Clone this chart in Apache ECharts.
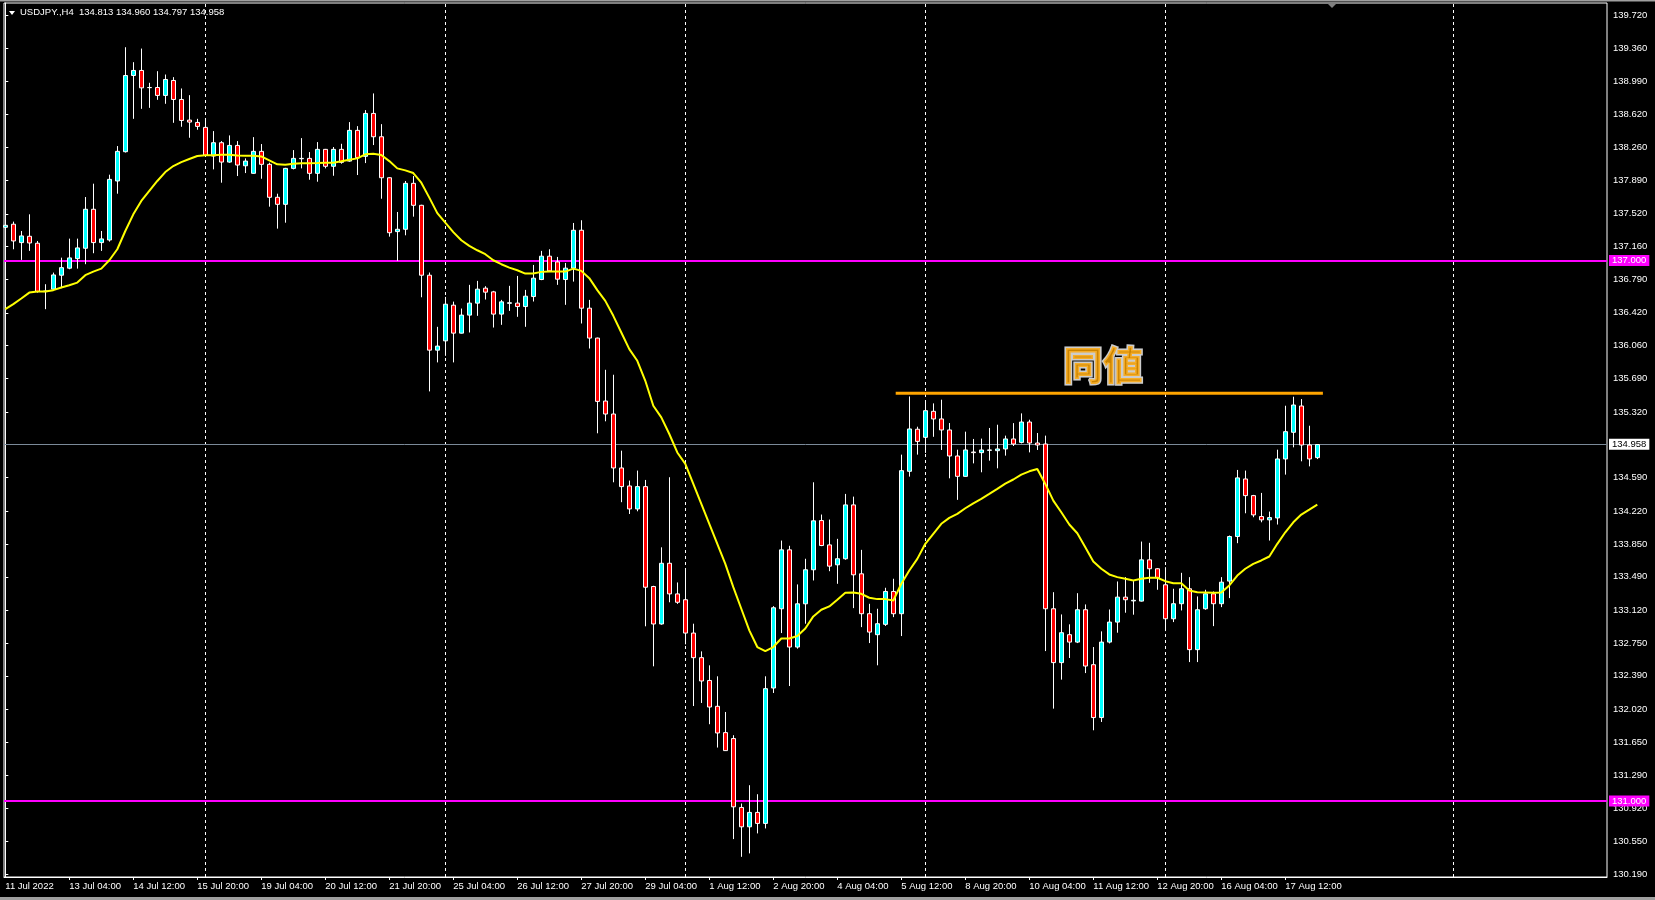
<!DOCTYPE html>
<html><head><meta charset="utf-8">
<script src="https://cdn.jsdelivr.net/npm/echarts@6/dist/echarts.min.js"></script>
<style>html,body{margin:0;padding:0;background:#000;}#c{width:1655px;height:900px;}</style>
</head><body><div id="c"></div>
<script>
// H4 bars, index 0 = 11 Jul 20:00 ... index 164 = 18 Aug 04:00
const opens = [137.370,137.404,137.200,137.270,137.193,136.656,136.683,136.838,136.916,137.022,137.137,137.570,137.200,137.229,137.884,138.209,139.055,139.111,138.920,138.922,138.834,139.000,138.789,138.560,138.534,138.479,138.161,138.309,138.094,138.279,138.053,137.969,138.213,138.069,137.703,137.625,138.024,138.131,138.135,137.969,138.235,138.047,138.235,138.105,138.446,138.158,138.634,138.375,137.920,137.322,137.348,137.858,137.614,136.838,136.006,136.109,136.505,136.195,136.395,136.528,136.694,136.653,136.406,136.526,136.528,136.490,136.601,136.790,137.049,136.986,136.790,136.916,137.337,136.472,136.140,135.441,135.297,134.698,134.498,134.243,134.491,133.382,132.966,133.640,133.300,133.235,132.865,132.592,132.339,132.052,131.760,131.694,130.929,130.714,130.874,130.752,132.255,133.135,133.789,132.710,133.190,133.568,134.114,133.844,133.623,133.690,134.288,133.523,133.080,132.847,132.962,133.327,133.080,134.661,135.128,135.038,135.327,135.242,135.120,134.831,134.605,134.875,134.868,134.894,134.890,134.909,135.020,134.982,135.208,134.975,134.964,133.135,132.537,132.847,132.765,133.124,132.514,131.927,132.765,132.987,133.264,133.222,133.220,133.678,133.579,133.401,133.024,133.191,133.357,132.681,133.135,133.301,133.191,133.442,133.937,134.576,134.391,134.159,134.122,134.143,134.798,135.094,135.386,134.953,134.813];
const highs = [137.440,137.433,137.329,137.514,137.218,136.738,136.867,137.033,137.244,137.244,137.706,137.854,137.329,137.954,138.272,139.369,139.203,139.354,138.974,139.103,139.066,139.037,138.911,138.837,138.574,138.574,138.438,138.327,138.390,138.327,138.135,138.371,138.294,138.087,137.743,138.030,138.227,138.360,138.205,138.316,138.240,138.261,138.297,138.538,138.493,138.671,138.856,138.515,137.927,137.540,137.884,137.939,137.620,136.868,136.265,136.597,136.545,136.468,136.731,136.775,136.716,136.664,136.564,136.720,136.830,136.675,136.952,137.108,137.126,137.041,136.974,137.418,137.448,136.564,136.145,135.788,135.733,134.890,134.558,134.669,134.565,133.390,133.817,134.595,133.427,133.579,132.969,132.662,132.507,132.385,131.989,131.731,130.973,131.176,131.076,132.385,133.164,133.892,133.834,133.405,133.690,134.539,134.181,134.125,133.911,134.410,134.380,133.789,133.190,133.135,133.368,133.468,134.846,135.492,135.156,135.445,135.415,135.456,135.197,134.901,135.101,135.020,135.024,135.142,135.178,135.057,135.196,135.304,135.234,135.086,135.057,133.319,133.072,132.962,133.308,133.183,132.710,132.884,133.127,133.438,133.486,133.442,133.881,133.867,133.586,133.596,133.357,133.534,133.486,133.272,133.346,133.327,133.486,133.948,134.676,134.669,134.399,134.421,134.214,134.901,135.389,135.489,135.463,135.167,134.960];
const lows = [137.237,137.126,137.008,137.108,136.645,136.461,136.664,136.694,136.904,136.911,136.960,137.082,137.108,137.211,137.743,138.200,138.574,138.685,138.696,138.785,138.741,138.530,138.486,138.364,138.453,138.161,138.013,137.865,138.086,137.939,137.972,137.965,137.909,137.599,137.355,137.421,138.013,138.024,137.898,137.876,138.024,137.942,138.076,138.098,137.950,138.083,138.283,137.687,137.266,136.997,137.281,137.488,136.593,135.548,135.870,135.943,135.870,136.191,136.202,136.387,136.568,136.257,136.287,136.442,136.376,136.265,136.546,136.783,136.879,136.731,136.509,136.767,136.302,136.024,135.083,135.216,134.539,134.318,134.187,134.217,132.940,132.496,132.958,133.207,133.189,132.740,132.055,132.089,131.853,131.594,131.557,130.578,130.381,130.419,130.641,130.696,132.200,132.865,132.277,132.692,132.969,133.449,133.830,133.552,133.412,133.679,133.142,132.931,132.754,132.507,132.944,133.042,132.832,134.602,134.846,134.865,135.044,134.898,134.583,134.344,134.601,134.749,134.650,134.779,134.694,134.835,134.942,134.971,134.871,134.898,132.665,132.026,132.348,132.588,132.754,132.421,131.786,131.878,132.750,132.869,133.091,133.069,133.215,133.423,133.346,132.887,132.987,133.116,132.543,132.543,133.124,132.942,133.153,133.253,133.863,134.195,134.151,134.095,133.892,134.070,134.624,134.927,134.772,134.716,134.797];
const closes = [137.392,137.218,137.274,137.196,136.656,136.663,136.841,136.922,137.030,137.141,137.570,137.200,137.241,137.902,138.213,139.055,139.111,138.918,138.922,138.834,139.011,138.789,138.556,138.538,138.490,138.169,138.309,138.094,138.279,138.061,138.105,138.213,138.069,137.703,137.625,138.024,138.135,138.135,137.969,138.235,138.047,138.235,138.091,138.446,138.142,138.634,138.375,137.920,137.310,137.348,137.858,137.614,136.838,136.006,136.051,136.516,136.195,136.395,136.528,136.683,136.650,136.406,136.542,136.532,136.490,136.605,136.805,137.049,136.886,136.794,136.916,137.337,136.472,136.140,135.437,135.297,134.698,134.491,134.243,134.491,133.374,132.966,133.640,133.300,133.207,132.865,132.592,132.333,132.044,131.756,131.560,130.936,130.714,130.874,130.752,132.248,133.146,133.789,132.710,133.190,133.568,134.111,133.837,133.608,133.690,134.288,133.512,133.080,132.876,132.969,133.327,133.080,134.668,135.131,134.993,135.334,135.242,135.120,134.831,134.605,134.898,134.868,134.898,134.898,134.909,135.020,134.964,135.208,134.975,134.953,133.135,132.537,132.869,132.765,133.124,132.499,131.927,132.765,132.987,133.264,133.235,133.229,133.678,133.579,133.479,133.024,133.191,133.357,132.681,133.124,133.301,133.191,133.430,133.937,134.588,134.391,134.177,134.122,134.147,134.798,135.101,135.397,134.953,134.798,134.958];
const maLine = [136.461,136.517,136.579,136.645,136.656,136.656,136.672,136.701,136.727,136.756,136.838,136.878,136.911,137.004,137.126,137.329,137.514,137.662,137.773,137.884,137.983,138.050,138.094,138.128,138.161,138.169,138.170,138.176,138.174,138.166,138.164,138.164,138.157,138.113,138.069,138.065,138.076,138.080,138.080,138.083,138.087,138.087,138.102,138.120,138.135,138.180,138.186,138.172,138.105,138.024,138.002,137.972,137.865,137.699,137.527,137.421,137.316,137.226,137.163,137.115,137.071,137.004,136.960,136.922,136.893,136.856,136.856,136.875,136.878,136.878,136.878,136.911,136.886,136.805,136.672,136.553,136.387,136.202,136.018,135.888,135.666,135.389,135.259,135.075,134.870,134.743,134.521,134.299,134.078,133.856,133.634,133.375,133.135,132.895,132.710,132.665,132.710,132.805,132.805,132.833,132.915,133.050,133.124,133.161,133.235,133.312,133.316,133.301,133.257,133.242,133.242,133.227,133.412,133.560,133.689,133.856,133.967,134.078,134.144,134.188,134.251,134.306,134.355,134.410,134.466,134.525,134.570,134.624,134.661,134.687,134.521,134.336,134.206,134.070,133.973,133.818,133.660,133.579,133.516,133.486,133.468,133.449,133.468,133.479,133.479,133.441,133.419,133.419,133.338,133.319,133.316,133.312,133.316,133.394,133.504,133.579,133.634,133.671,133.715,133.856,133.984,134.095,134.181,134.236,134.292];
const timeLabelIdx = [0,8,16,24,32,40,48,56,64,72,80,88,96,104,112,120,128,136,144,152,160];
const timeLabels = ["11 Jul 2022","13 Jul 04:00","14 Jul 12:00","15 Jul 20:00","19 Jul 04:00","20 Jul 12:00","21 Jul 20:00","25 Jul 04:00","26 Jul 12:00","27 Jul 20:00","29 Jul 04:00","1 Aug 12:00","2 Aug 20:00","4 Aug 04:00","5 Aug 12:00","8 Aug 20:00","10 Aug 04:00","11 Aug 12:00","12 Aug 20:00","16 Aug 04:00","17 Aug 12:00"];
const priceTicks = [139.720,139.360,138.990,138.620,138.260,137.890,137.520,137.160,136.790,136.420,136.060,135.690,135.320,134.590,134.220,133.850,133.490,133.120,132.750,132.390,132.020,131.650,131.290,130.920,130.550,130.190];
const weekLines = [25,55,85,115,145,181];
const levels = [137.000, 131.000];
const bidPrice = 134.958;
const header = "USDJPY.,H4  134.813 134.960 134.797 134.958";
const sameLevel = [[111.3,135.527],[164.7,135.527]];
const sameLabelPos = [137.2, 135.844];
const sameLabel = "同値";

const candles = opens.map((o,i)=>[i,o,closes[i],lows[i],highs[i]]);
const maData = maLine.map((v,i)=>[i,v]);
const labelMap = {}; timeLabelIdx.forEach((v,i)=>labelMap[v]=timeLabels[i]);
const FONT = 'Liberation Sans';

const chart = echarts.init(document.getElementById('c'), null, {renderer:'canvas'});
chart.setOption({
  backgroundColor:'#000',
  animation:false,
  grid:{left:4,right:48,top:3,bottom:23,show:true,borderColor:'#ffffff',borderWidth:1,backgroundColor:'#000'},
  xAxis:{type:'value',min:-0.1625,max:200.2125,splitLine:{show:false},
    axisLine:{show:true,onZero:false,lineStyle:{color:'#ffffff'}},
    axisTick:{show:true,length:3,customValues:timeLabelIdx.slice(1),lineStyle:{color:'#ffffff'}},
    axisLabel:{customValues:timeLabelIdx,formatter:v=>labelMap[Math.round(v)]||'',align:'left',color:'#ffffff',fontSize:9.5,fontFamily:FONT,margin:4,showMinLabel:true,showMaxLabel:true,hideOverlap:false}},
  yAxis:{type:'value',position:'right',min:130.157,max:139.860,scale:true,splitLine:{show:false},
    axisLine:{show:true,lineStyle:{color:'#ffffff'}},
    axisTick:{show:true,length:3,customValues:priceTicks,lineStyle:{color:'#ffffff'}},
    axisLabel:{customValues:priceTicks,formatter:v=>v.toFixed(3),color:'#ffffff',fontSize:9.5,fontFamily:FONT,margin:6}},
  series:[
    {type:'candlestick',data:candles,barWidth:5,clip:true,z:3,
      itemStyle:{color:'#00ffff',color0:'#ff0000',borderColor:'#ffffff',borderColor0:'#ffffff',borderColorDoji:'#ffffff',borderWidth:1},
      markLine:{silent:true,symbol:'none',animation:false,z:1,
        data:[
          ...weekLines.map(x=>({xAxis:x,lineStyle:{color:'#ffffff',width:1,type:[3,3]},label:{show:false}})),
          ...levels.map(p=>({yAxis:p,lineStyle:{color:'#ff00ff',width:2,type:'solid'},
            label:{show:true,position:'end',distance:2,formatter:p.toFixed(3),color:'#ffffff',backgroundColor:'#ff00ff',padding:[1,3,0,3],fontSize:9.5,fontFamily:FONT}})),
          {yAxis:bidPrice,lineStyle:{color:'#7b8a99',width:1,type:'solid'},
            label:{show:true,position:'end',distance:2,formatter:bidPrice.toFixed(3),color:'#000000',backgroundColor:'#ffffff',padding:[1,3,0,3],fontSize:9.5,fontFamily:FONT}}
        ]}},
    {type:'line',data:maData,showSymbol:false,symbol:'none',z:4,lineStyle:{color:'#ffff00',width:2},clip:true},
    {type:'line',data:sameLevel,showSymbol:false,symbol:'none',z:5,lineStyle:{color:'#ffa500',width:3}},
    {type:'scatter',data:[sameLabelPos],symbolSize:1,itemStyle:{color:'rgba(0,0,0,0)'},z:6,
      label:{show:true,position:'inside',formatter:sameLabel,fontSize:40,fontWeight:'bold',fontFamily:'Noto Sans CJK JP',color:'#ffa500',textBorderColor:'#ffffff',textBorderWidth:3}}
  ],
  graphic:[
    {type:'rect',shape:{x:0,y:0,width:1655,height:1.5},style:{fill:'#a0a0a0'},z:10},
    {type:'rect',shape:{x:0,y:897,width:1655,height:3},style:{fill:'#a0a0a0'},z:10},
    {type:'polygon',shape:{points:[[9,11],[15,11],[12,15]]},style:{fill:'#ffffff'},z:10},
    {type:'text',left:20,top:7,style:{text:header,fill:'#ffffff',font:'9.5px '+FONT},z:10},
    {type:'polygon',shape:{points:[[1327,3],[1337,3],[1332,8]]},style:{fill:'#808080'},z:10}
  ]
});
</script></body></html>
